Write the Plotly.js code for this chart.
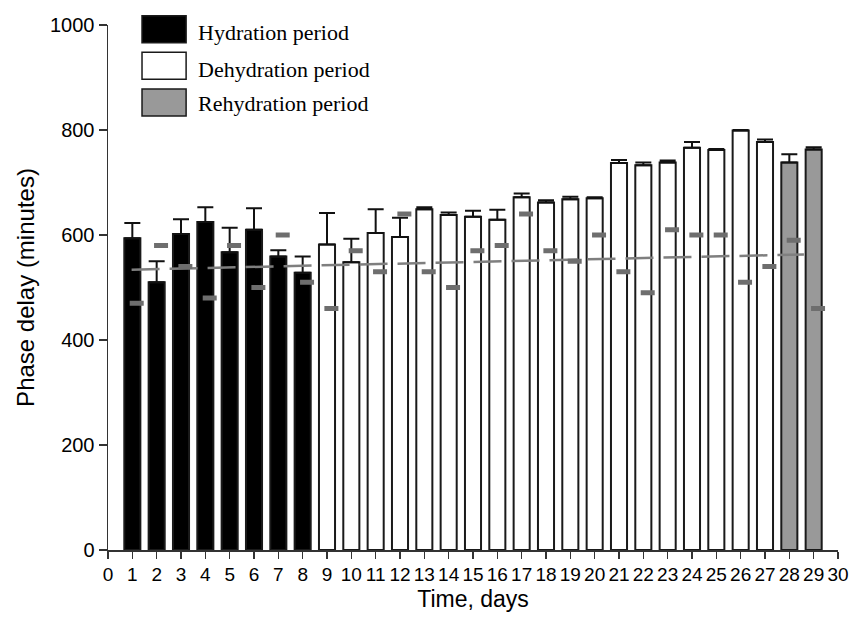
<!DOCTYPE html>
<html>
<head>
<meta charset="utf-8">
<script src="https://cdn.plot.ly/plotly-3.0.1.min.js"></script>
<style>html,body{margin:0;padding:0;background:#fff;}#chart{width:850px;height:618px;}</style>
</head>
<body>
<div id="chart"></div>
<script>
// ---- data ----
const hydrationDays = [1, 2, 3, 4, 5, 6, 7, 8];
const hydrationValues = [594, 510, 602, 625, 567, 610, 559, 528];
const hydrationErrors = [29, 40, 28, 28, 47, 41, 12, 31];

const dehydrationDays = [9, 10, 11, 12, 13, 14, 15, 16, 17, 18, 19, 20, 21, 22, 23, 24, 25, 26, 27];
const dehydrationValues = [582, 548, 604, 596, 649, 638, 635, 629, 672, 662, 668, 670, 737, 733, 738, 766, 762, 799, 777];
const dehydrationErrors = [60, 45, 45, 37, 4, 5, 11, 19, 7, 4, 5, 2, 6, 5, 4, 11, 2, 1, 5];

const rehydrationDays = [28, 29];
const rehydrationValues = [738, 763];
const rehydrationErrors = [16, 4];

const pointDays = [1, 2, 3, 4, 5, 6, 7, 8, 9, 10, 11, 12, 13, 14, 15, 16, 17, 18, 19, 20, 21, 22, 23, 24, 25, 26, 27, 28, 29];
const pointValues = [470, 580, 540, 480, 580, 500, 600, 510, 460, 570, 530, 640, 530, 500, 570, 580, 640, 570, 550, 600, 530, 490, 610, 600, 600, 510, 540, 590, 460];

const trendDays = [0.97, 28.6];
const trendValues = [534, 563];

const xTickValues = [0,1,2,3,4,5,6,7,8,9,10,11,12,13,14,15,16,17,18,19,20,21,22,23,24,25,26,27,28,29,30];
const legendLabels = ["Hydration period", "Dehydration period", "Rehydration period"];
const legendColors = ["#000000", "#ffffff", "#999999"];

// ---- traces ----
const BAR_W = 0.66;
function barTrace(days, vals, errs, fill, name) {
  return {
    type: 'bar', name: name, x: days, y: vals, width: BAR_W,
    marker: {color: fill, line: {color: '#1a1a1a', width: 2}},
    error_y: {type: 'data', symmetric: false, array: errs, arrayminus: errs.map(() => 0),
              color: '#111', thickness: 2, width: 8},
    showlegend: false, hoverinfo: 'x+y'
  };
}

const traces = [
  barTrace(hydrationDays, hydrationValues, hydrationErrors, legendColors[0], legendLabels[0]),
  barTrace(dehydrationDays, dehydrationValues, dehydrationErrors, legendColors[1], legendLabels[1]),
  barTrace(rehydrationDays, rehydrationValues, rehydrationErrors, legendColors[2], legendLabels[2]),
  {
    type: 'scatter', mode: 'lines', x: trendDays, y: trendValues,
    line: {color: '#7f7f7f', width: 2.5, dash: '28px,10px'}, showlegend: false, hoverinfo: 'skip'
  },
  {
    type: 'scatter', mode: 'markers', x: pointDays.map(d => d + 0.18), y: pointValues,
    marker: {symbol: 'line-ew', size: 10, line: {color: '#6e6e6e', width: 5}},
    showlegend: false
  }
];

// ---- legend (drawn manually with large swatches) ----
const legendRows = [[0.9663, 1.0177], [0.8966, 0.948], [0.8267, 0.878]];
const legendTextY = [0.985, 0.915, 0.850];
const shapes = legendRows.map((r, i) => ({
  type: 'rect', xref: 'paper', yref: 'paper', x0: 0.0466, x1: 0.107, y0: r[0], y1: r[1],
  fillcolor: legendColors[i], line: {color: '#1a1a1a', width: 1.5}
}));
const annotations = legendRows.map((r, i) => ({
  xref: 'paper', yref: 'paper', x: 0.1205, y: legendTextY[i], xanchor: 'left', yanchor: 'middle',
  text: legendLabels[i], showarrow: false,
  font: {family: 'Liberation Serif, Times New Roman, serif', size: 22, color: '#000'}
}));

const layout = {
  width: 850, height: 618,
  margin: {l: 108, r: 12, t: 25, b: 68},
  paper_bgcolor: '#fff', plot_bgcolor: '#fff',
  barmode: 'overlay',
  showlegend: false,
  font: {family: 'Liberation Sans, Arial, sans-serif', color: '#000'},
  xaxis: {
    range: [0, 30], tickmode: 'array', tickvals: xTickValues, ticktext: xTickValues.map(String),
    showgrid: false, zeroline: false, showline: true, linecolor: '#333', linewidth: 1.5,
    ticks: 'outside', ticklen: 7, tickwidth: 1.5, tickcolor: '#333',
    tickfont: {size: 19, color: '#000'},
    title: {text: 'Time, days', font: {size: 23, color: '#000'}, standoff: 6}
  },
  yaxis: {
    range: [0, 1000], dtick: 200, tick0: 0,
    showgrid: false, zeroline: false, showline: true, linecolor: '#333', linewidth: 1.5,
    ticks: 'outside', ticklen: 8, tickwidth: 1.5, tickcolor: '#333',
    tickfont: {size: 20, color: '#000'},
    title: {text: 'Phase delay (minutes)', font: {size: 24, color: '#000'}, standoff: 8}
  },
  shapes: shapes,
  annotations: annotations
};

Plotly.newPlot('chart', traces, layout, {displayModeBar: false, staticPlot: true});
</script>
</body>
</html>
